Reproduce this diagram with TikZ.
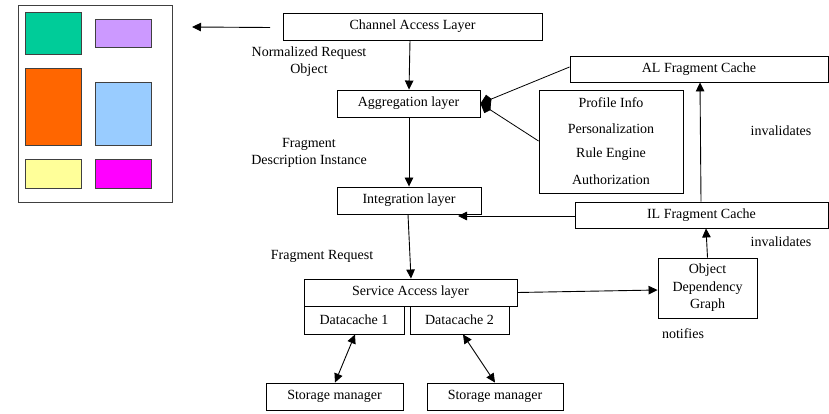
\documentclass[tikz,border=0pt]{standalone}
\usepackage{fontspec}
\setmainfont{Liberation Serif}
\usetikzlibrary{arrows.meta}

\tikzset{
  box/.style={draw, line width=0.9pt, inner sep=0pt, font=\fontsize{14}{15}\selectfont},
  lbl/.style={inner sep=0pt, align=center, font=\fontsize{14}{16.5}\selectfont},
  tile/.style={draw=black!75, line width=1pt},
  conn/.style={line width=0.9pt, -{Triangle[length=9pt,width=8.5pt]}},
  twoway/.style={line width=0.9pt, {Triangle[length=9pt,width=8.5pt]}-{Triangle[length=9pt,width=8.5pt]}},
  meetarrow/.style={line width=0.8pt, -{Kite[length=12pt,width=12pt,inset=3.5pt]}}
}

\begin{document}
\begin{tikzpicture}[x=1pt, y=-1pt]
\useasboundingbox (0,0) rectangle (829,414);

% page layout sketch with coloured regions
\draw[line width=1pt, draw=black!75] (18,6) rectangle (172,202);
\fill[tile, fill={rgb,255:red,0;green,204;blue,153}] (25,13) rectangle (81,55);
\fill[tile, fill={rgb,255:red,204;green,153;blue,255}] (95,20) rectangle (151,48);
\fill[tile, fill={rgb,255:red,255;green,102;blue,0}] (25,69) rectangle (81,146);
\fill[tile, fill={rgb,255:red,153;green,204;blue,255}] (95,83) rectangle (151,146);
\fill[tile, fill={rgb,255:red,255;green,255;blue,153}] (25,160) rectangle (81,188);
\fill[tile, fill={rgb,255:red,255;green,0;blue,255}] (95,160) rectangle (151,188);
\draw[tile] (25,13) rectangle (81,55);
\draw[tile] (95,20) rectangle (151,48);
\draw[tile] (25,69) rectangle (81,146);
\draw[tile] (95,83) rectangle (151,146);
\draw[tile] (25,160) rectangle (81,188);
\draw[tile] (95,160) rectangle (151,188);
\coordinate (page) at (192,27);

% layers
\node[box, minimum width=259pt, minimum height=27pt] (cal)   at (412.5,26.5) {Channel Access Layer};
\node[box, minimum width=143pt, minimum height=27pt] (agg)   at (408.5,103.5) {Aggregation layer};
\node[box, minimum width=144pt, minimum height=27pt] (integ) at (409,200.5) {Integration layer};
\node[box, minimum width=213pt, minimum height=27pt] (sal)   at (410.5,292.5) {Service Access layer};
\node[box, minimum width=100pt, minimum height=28pt] (dc1)   at (354,320) {Datacache 1};
\node[box, minimum width=99pt,  minimum height=28pt] (dc2)   at (459.5,320) {Datacache 2};
\node[box, minimum width=137pt, minimum height=27pt] (sm1)   at (334.5,396.5) {Storage manager};
\node[box, minimum width=136pt, minimum height=27pt] (sm2)   at (495,396.5) {Storage manager};

% caches and services
\node[box, minimum width=258pt, minimum height=26pt] (alfc) at (699,69) {AL Fragment Cache};
\node[box, minimum width=253pt, minimum height=26pt] (ilfc) at (701.5,215) {IL Fragment Cache};
\node[box, minimum width=144pt, minimum height=103pt] (prof) at (611,141.5) {};
\node[lbl] at (611,103) {Profile Info};
\node[lbl] at (611,129) {Personalization};
\node[lbl] at (611,154) {Rule Engine};
\node[lbl] at (611,180) {Authorization};
\node[box, minimum width=99pt, minimum height=60pt, align=center,
      font=\fontsize{14}{17.5}\selectfont] (odg) at (707.5,288) {Object\\Dependency\\Graph};

% labels
\node[lbl] at (309,61.5) {Normalized Request\\Object};
\node[lbl] at (309,153) {Fragment\\Description Instance};
\node[lbl] at (322,256) {Fragment Request};
\node[lbl] at (781,131) {invalidates};
\node[lbl] at (781,242) {invalidates};
\node[lbl] at (683,334) {notifies};

% connectors
\coordinate (calL) at (270,27.5);
\coordinate (ilin) at (458,216);
\draw[conn] (calL) -- (page);
\draw[conn] (cal.south -| 410,0) -- (agg.north -| 409,0);
\draw[conn] (agg.south -| 409,0) -- (integ.north -| 409,0);
\draw[conn] (integ.south -| 408,0) -- (sal.north -| 411,0);
\draw[meetarrow] (alfc.west |- 0,67) -- (agg.east);
\draw[meetarrow] (prof.west |- 0,141) -- (agg.east);
\draw[conn] (ilfc.west |- 0,216) -- (ilin);
\draw[conn] (ilfc.north -| 701,0) -- (alfc.south -| 700,0);
\draw[conn] (odg.north) -- (ilfc.south -| 706,0);
\draw[conn] (sal.east) -- (odg.west |- 0,290);
\draw[twoway] (dc1.south -| 355,0) -- (sm1.north -| 335,0);
\draw[twoway] (dc2.south -| 463,0) -- (sm2.north -| 495,0);
\end{tikzpicture}
\end{document}
